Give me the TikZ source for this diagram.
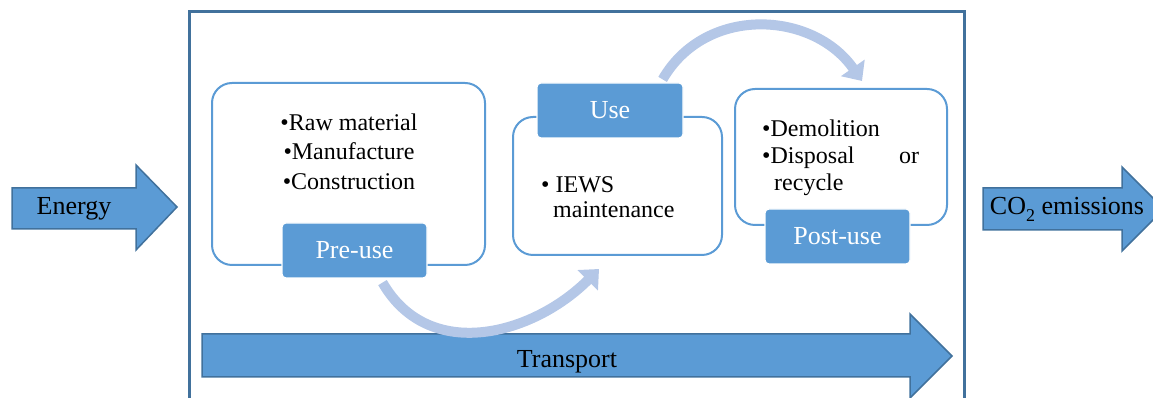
\documentclass[tikz,border=0pt]{standalone}
\usepackage{fontspec}
\setmainfont{Liberation Serif}
\usetikzlibrary{arrows.meta}
\definecolor{accent}{RGB}{91,155,213}
\definecolor{edge}{RGB}{65,113,156}
\definecolor{flow}{RGB}{180,199,231}
\begin{document}
\begin{tikzpicture}[x=1pt, y=1pt,
		box/.style={draw=accent, line width=2pt, rounded corners=20pt, inner sep=0pt},
		lbl/.style={fill=accent, draw=white, line width=1.2pt, rounded corners=4pt, text=white, inner sep=0pt, font=\fontsize{26}{30}\selectfont},
		barrow/.style={fill=accent, draw=edge, line width=1.5pt, line join=miter},
		big/.style={font=\fontsize{26}{30}\selectfont},
		list/.style={inner sep=0pt, font=\fontsize{24}{27}\selectfont},
		loop/.style={draw=flow, line width=10pt, -{Triangle[length=16pt, width=28pt]}}]
	\useasboundingbox (0,0) rectangle (1153,398);

	\draw[edge, line width=3pt] (189,-10) rectangle (964,386);

	\draw[barrow] (12,169) -- (136,169) -- (136,148) -- (177,191) -- (136,233) -- (136,210) -- (12,210) -- cycle;
	\draw[barrow] (983,168) -- (1122,168) -- (1122,147) -- (1164,189) -- (1122,231) -- (1122,210) -- (983,210) -- cycle;
	\draw[barrow] (202,21) -- (910,21) -- (910,0) -- (952,42) -- (910,84) -- (910,64) -- (202,64) -- cycle;
	\node[big, anchor=base] (energy) at (74,183) {Energy};
	\node[big, anchor=base] (co2) at (1067,183) {CO\raisebox{-7pt}{\fontsize{18}{18}\selectfont 2} emissions};
	\node[big, anchor=base] (transport) at (567,30) {Transport};

	\node[box, minimum width=273pt, minimum height=182pt] (prebox) at (348.5,224) {};
	\node[box, minimum width=209pt, minimum height=138pt] (usebox) at (617.5,212) {};
	\node[box, minimum width=212pt, minimum height=136pt] (postbox) at (841,241) {};

	\node[lbl, minimum width=145pt, minimum height=55pt] (pre) at (354.5,147.5) {Pre-use};
	\node[lbl, minimum width=146pt, minimum height=55pt] (use) at (610,287.5) {Use};
	\node[lbl, minimum width=145pt, minimum height=55pt] (post) at (837.5,161.5) {Post-use};

	\node[list, align=center, font=\fontsize{24}{29.5}\selectfont] (pretext) at (349,246.7)
		{\textbullet Raw material\\\textbullet Manufacture\\\textbullet Construction};
	\node[list, align=left, anchor=west, font=\fontsize{24}{25}\selectfont] (usetext) at (541,200.5)
		{\textbullet\ IEWS\\\hspace*{12pt}maintenance};
	\node[list, anchor=west, text width=157pt, align=left] (posttext) at (762,240)
		{\textbullet Demolition\\\textbullet Disposal\hfill or\\\hspace*{12pt}recycle};

	\draw[loop] ([xshift=28pt, yshift=-4pt]pre.south) to[out=-60, in=-135, looseness=1.1] ([xshift=87pt, yshift=-13pt]usebox.south west);
	\draw[loop] ([xshift=-21pt, yshift=3pt]use.north east) to[out=60, in=125, looseness=1.1] ([xshift=21pt, yshift=7pt]postbox.north);
\end{tikzpicture}
\end{document}
